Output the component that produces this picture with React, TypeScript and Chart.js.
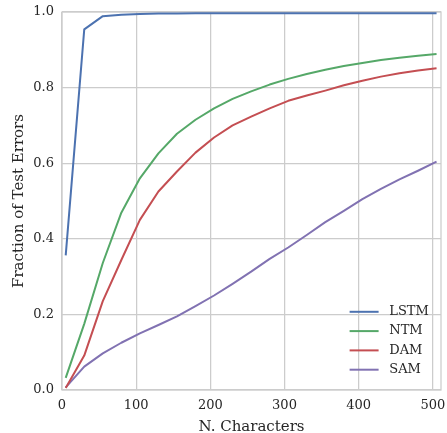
import React, { useEffect, useRef } from "react";
import { Chart, registerables } from "chart.js";

Chart.register(...registerables);

const nChars = [5, 30, 55, 80, 105, 130, 155, 180, 205, 230, 255, 280, 305, 330, 355, 380, 405, 430, 455, 480, 505];
const lstm = [0.356, 0.954, 0.989, 0.993, 0.995, 0.996, 0.996, 0.997, 0.997, 0.997, 0.997, 0.997, 0.997, 0.997, 0.997, 0.997, 0.997, 0.997, 0.997, 0.997, 0.997];
const ntm = [0.032, 0.175, 0.336, 0.469, 0.56, 0.626, 0.678, 0.715, 0.745, 0.77, 0.79, 0.808, 0.823, 0.836, 0.847, 0.857, 0.865, 0.873, 0.879, 0.884, 0.889];
const dam = [0.005, 0.091, 0.235, 0.344, 0.45, 0.525, 0.578, 0.628, 0.668, 0.7, 0.723, 0.745, 0.765, 0.779, 0.792, 0.806, 0.818, 0.829, 0.838, 0.845, 0.851];
const sam = [0.007, 0.062, 0.097, 0.125, 0.15, 0.172, 0.195, 0.222, 0.25, 0.281, 0.313, 0.347, 0.377, 0.41, 0.444, 0.474, 0.505, 0.532, 0.557, 0.58, 0.604];

const seriesNames = ["LSTM", "NTM", "DAM", "SAM"];
const seriesValues = [lstm, ntm, dam, sam];
const seriesColors = ["#4C72B0", "#55A868", "#C44E52", "#8172B2"];

const xTicks = [0, 100, 200, 300, 400, 500];
const yTicks = [0, 0.2, 0.4, 0.6, 0.8, 1.0];

const FONT = "'DejaVu Serif', serif";
const TEXT = "#262626";
const GRID = "#cccccc";

const framePlugin = {
  id: "frame",
  beforeDatasetsDraw(chart: any) {
    const { ctx, chartArea } = chart;
    ctx.save();
    ctx.strokeStyle = GRID;
    ctx.lineWidth = 1.25;
    ctx.strokeRect(chartArea.left, chartArea.top, chartArea.right - chartArea.left, chartArea.bottom - chartArea.top);
    ctx.restore();
  },
};

const legendPlugin = {
  id: "mplLegend",
  afterDraw(chart: any) {
    const { ctx, chartArea } = chart;
    const ds = chart.data.datasets;
    const n = ds.length;
    ctx.save();
    ctx.font = `13px ${FONT}`;
    ctx.textBaseline = "middle";
    ctx.textAlign = "left";
    for (let i = 0; i < n; i++) {
      const cy = chartArea.bottom - 20.3 - (n - 1 - i) * 19.3;
      ctx.strokeStyle = ds[i].borderColor;
      ctx.lineWidth = 2;
      ctx.beginPath();
      ctx.moveTo(chartArea.right - 91.4, cy);
      ctx.lineTo(chartArea.right - 62.4, cy);
      ctx.stroke();
      ctx.fillStyle = TEXT;
      ctx.fillText(ds[i].label, chartArea.right - 51.7, cy);
    }
    ctx.restore();
  },
};

const clearPadding = (s: any) => {
  s.paddingTop = 0;
  s.paddingBottom = 0;
  s.paddingLeft = 0;
  s.paddingRight = 0;
};

export default function App() {
  const ref = useRef<HTMLCanvasElement | null>(null);

  useEffect(() => {
    if (!ref.current) return;
    const chart = new Chart(ref.current, {
      type: "line",
      data: {
        datasets: seriesNames.map((name, i) => ({
          label: name,
          data: nChars.map((x, j) => ({ x, y: seriesValues[i][j] })),
          borderColor: seriesColors[i],
          backgroundColor: seriesColors[i],
          borderWidth: 2,
          pointRadius: 0,
          tension: 0,
          fill: false,
          borderJoinStyle: "round" as const,
        })),
      },
      options: {
        responsive: false,
        animation: false,
        layout: { padding: { top: 12, right: 6, left: 0, bottom: 0 } },
        plugins: {
          legend: { display: false },
          tooltip: { enabled: false },
        },
        scales: {
          x: {
            type: "linear",
            min: 0,
            max: 511,
            afterBuildTicks: (s: any) => {
              s.ticks = xTicks.map((v) => ({ value: v }));
            },
            afterFit: (s: any) => {
              s.height = 43;
              clearPadding(s);
            },
            grid: { color: GRID, lineWidth: 1.25, drawTicks: false },
            border: { display: false },
            ticks: {
              padding: 8,
              color: TEXT,
              font: { family: FONT, size: 13 },
              maxRotation: 0,
              callback: (v: any) => String(v),
            },
            title: {
              display: true,
              text: "N. Characters",
              color: TEXT,
              font: { family: FONT, size: 15 },
              padding: { top: 0, bottom: -3 },
            },
          },
          y: {
            type: "linear",
            min: 0,
            max: 1,
            afterBuildTicks: (s: any) => {
              s.ticks = yTicks.map((v) => ({ value: v }));
            },
            afterFit: (s: any) => {
              s.width = 62;
              clearPadding(s);
            },
            grid: { color: GRID, lineWidth: 1.25, drawTicks: false },
            border: { display: false },
            ticks: {
              padding: 8,
              color: TEXT,
              font: { family: FONT, size: 13 },
              callback: (v: any) => Number(v).toFixed(1),
            },
            title: {
              display: true,
              text: "Fraction of Test Errors",
              color: TEXT,
              font: { family: FONT, size: 15 },
              padding: { top: 10, bottom: 0 },
            },
          },
        },
      },
      plugins: [framePlugin, legendPlugin],
    });
    return () => chart.destroy();
  }, []);

  return (
    <div style={{ position: "absolute", left: 0, top: 0, width: 447, height: 433 }}>
      <canvas ref={ref} width={447} height={433} style={{ display: "block" }} />
    </div>
  );
}
